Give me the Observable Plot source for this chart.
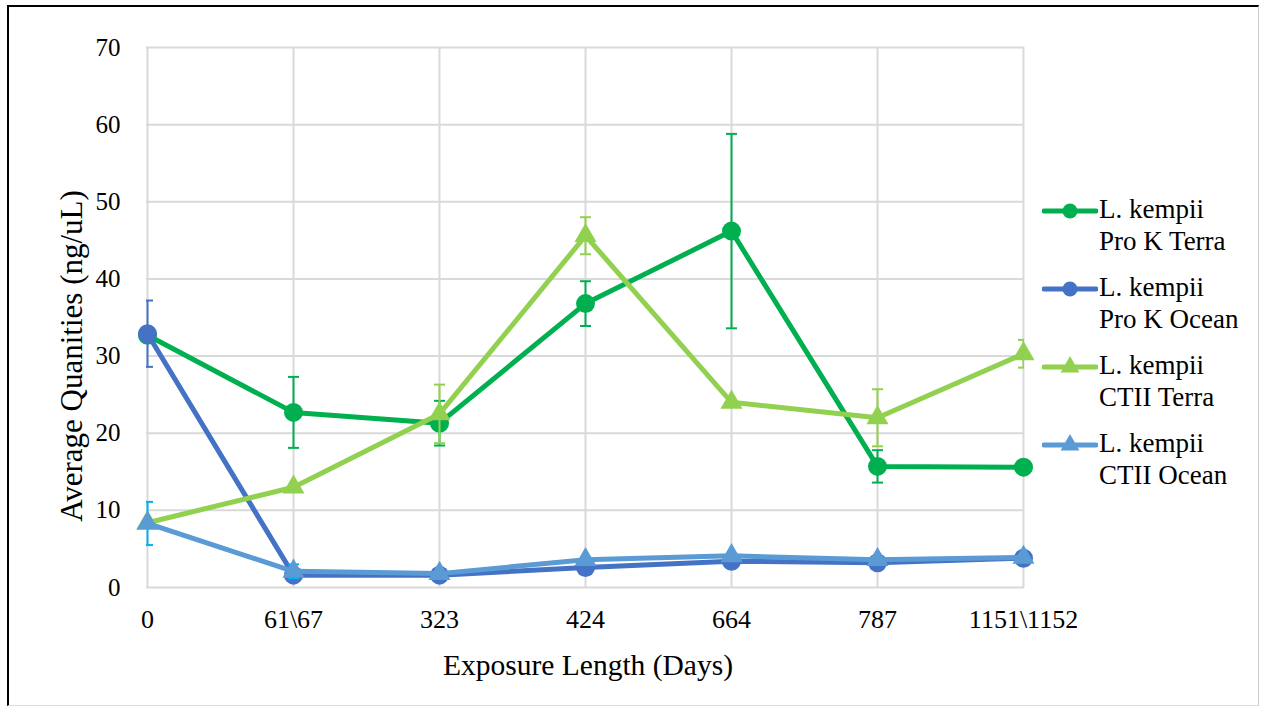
<!DOCTYPE html>
<html>
<head>
<meta charset="utf-8">
<script src="https://cdn.jsdelivr.net/npm/d3@7"></script>
<script src="https://cdn.jsdelivr.net/npm/@observablehq/plot@0.6"></script>
<style>
  html, body { margin: 0; padding: 0; background: #fff; }
  #wrap { position: relative; width: 1262px; height: 708px; overflow: hidden; font-family: "Liberation Serif", "Times New Roman", serif; color: #000; }
  #border { position: absolute; left: 7px; top: 5px; width: 1252px; height: 701px; border-left: 2px solid #000; border-top: 2px solid #000; border-right: 1px solid #ccc; border-bottom: 1px solid #ddd; box-sizing: border-box; pointer-events: none; }
  .ytitle { position: absolute; left: 72px; top: 356px; transform: translate(-50%, -50%) rotate(-90deg); white-space: nowrap; font-size: 31px; }
  .xtitle { position: absolute; left: 588px; top: 665px; transform: translate(-50%, -50%); white-space: nowrap; font-size: 29.5px; }
  #legend { position: absolute; left: 1042px; top: 193px; }
  .item { position: relative; height: 78px; }
  .item svg { position: absolute; left: 0; top: 6px; }
  .item .txt { position: absolute; left: 57px; top: 0; font-size: 27px; line-height: 32px; white-space: nowrap; }
</style>
</head>
<body>
<div id="wrap">
  <div id="chart"></div>
  <div class="ytitle">Average Quanities (ng/uL)</div>
  <div class="xtitle">Exposure Length (Days)</div>
  <div id="legend"></div>
  <div id="border"></div>
</div>
<script>
// ---- data ----
const categories = ["0", "61\\67", "323", "424", "664", "787", "1151\\1152"];
const seriesNames = ["L. kempii Pro K Terra", "L. kempii Pro K Ocean", "L. kempii CTII Terra", "L. kempii CTII Ocean"];
const legendLines = [["L. kempii", "Pro K Terra"], ["L. kempii", "Pro K Ocean"], ["L. kempii", "CTII Terra"], ["L. kempii", "CTII Ocean"]];
const proKTerra = [32.7, 22.7, 21.3, 36.8, 46.2, 15.7, 15.6];
const proKTerraErr = [null, 4.6, 2.9, 2.9, 12.6, 2.1, null];
const proKOcean = [32.9, 1.6, 1.6, 2.6, 3.4, 3.2, 3.8];
const proKOceanErr = [4.3, null, null, null, null, null, null];
const ctiiTerra = [8.4, 13.0, 22.5, 45.6, 24.0, 22.0, 30.3];
const ctiiTerraErr = [null, null, 3.8, 2.4, null, 3.7, 1.8];
const ctiiOcean = [8.3, 2.1, 1.8, 3.6, 4.1, 3.6, 3.9];
const ctiiOceanErr = [2.8, 0.9, null, null, null, null, null];
const yTicks = [0, 10, 20, 30, 40, 50, 60, 70];

const lineColors = ["#00B050", "#4472C4", "#92D050", "#5B9BD5"];
const errColors = ["#00B050", "#4472C4", "#92D050", "#00B0F0"];
const symbols = ["circle", "circle", "triangle", "triangle"];
const allValues = [proKTerra, proKOcean, ctiiTerra, ctiiOcean];
const allErrs = [proKTerraErr, proKOceanErr, ctiiTerraErr, ctiiOceanErr];

const series = seriesNames.map((name, s) => ({
  name,
  data: categories.map((c, i) => ({ x: c, y: allValues[s][i], e: allErrs[s][i] })),
  line: lineColors[s], err: errColors[s], symbol: symbols[s]
}));

// horizontal cap symbol for error bars
const capSymbol = {
  draw(ctx, size) {
    const r = Math.sqrt(size / Math.PI);
    ctx.moveTo(-r, 0);
    ctx.lineTo(r, 0);
  }
};

const marks = [
  Plot.gridX(categories, { stroke: "#d9d9d9", strokeOpacity: 1, strokeWidth: 2 }),
  Plot.gridY(yTicks, { stroke: "#d9d9d9", strokeOpacity: 1, strokeWidth: 2 }),
  Plot.axisX({ tickSize: 0, tickPadding: 22, fontSize: 26, label: null }),
  Plot.axisY({ ticks: yTicks, tickSize: 0, tickPadding: 26, fontSize: 25, label: null })
];
for (const s of series) {
  const ed = s.data.filter(d => d.e != null);
  marks.push(Plot.line(s.data, { x: "x", y: "y", stroke: s.line, strokeWidth: 5, strokeLinejoin: "round" }));
  marks.push(Plot.ruleX(ed, { x: "x", y1: d => d.y - d.e, y2: d => d.y + d.e, stroke: s.err, strokeWidth: 2, clip: true }));
  marks.push(Plot.dot(ed, { x: "x", y: d => d.y + d.e, symbol: capSymbol, r: 5.5, stroke: s.err, strokeWidth: 2, fill: "none", clip: true }));
  marks.push(Plot.dot(ed, { x: "x", y: d => d.y - d.e, symbol: capSymbol, r: 5.5, stroke: s.err, strokeWidth: 2, fill: "none", clip: true }));
  marks.push(Plot.dot(s.data, { x: "x", y: "y", symbol: s.symbol, r: s.symbol === "circle" ? 9.5 : 8.2, fill: s.line, stroke: "none" }));
}

const chart = Plot.plot({
  width: 1262,
  height: 708,
  marginLeft: 146,
  marginRight: 238,
  marginTop: 47,
  marginBottom: 121,
  style: { fontFamily: "Liberation Serif, Times New Roman, serif", fontSize: "25px", color: "#000", background: "transparent" },
  x: { type: "point", domain: categories, padding: 0 },
  y: { domain: [0, 70] },
  marks
});
document.getElementById("chart").appendChild(chart);

// ---- legend ----
const legend = document.getElementById("legend");
series.forEach((s, i) => {
  const item = document.createElement("div");
  item.className = "item";
  const marker = s.symbol === "circle"
    ? `<circle cx="28" cy="12" r="7.5" fill="${s.line}"/>`
    : `<path d="${d3.symbol(d3.symbolTriangle, Math.PI * 7 * 7)()}" transform="translate(28,12)" fill="${s.line}"/>`;
  item.innerHTML = `<svg width="56" height="24"><line x1="2" x2="54" y1="12" y2="12" stroke="${s.line}" stroke-width="5" stroke-linecap="round"/>${marker}</svg>` +
    `<div class="txt">${legendLines[i][0]}<br>${legendLines[i][1]}</div>`;
  legend.appendChild(item);
});
</script>
</body>
</html>
